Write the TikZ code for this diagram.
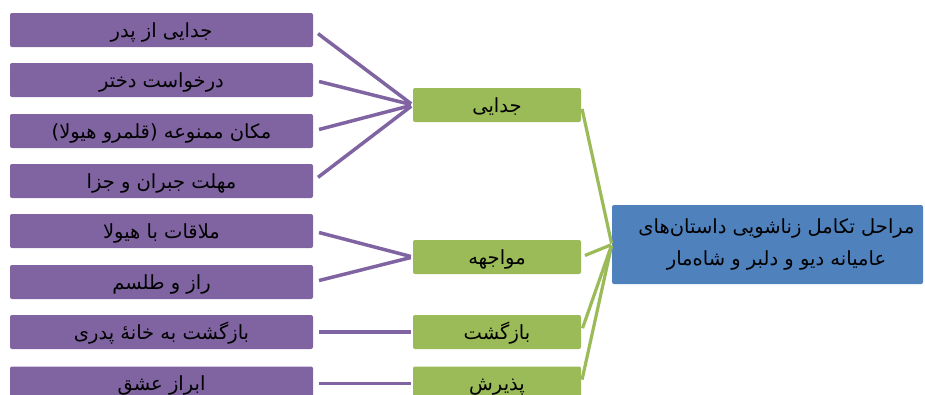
\documentclass[tikz,border=0pt]{standalone}
\usepackage{fontspec}
\newfontfamily\arabicfont[Script=Arabic]{DejaVu Sans}
\TeXXeTstate=1
\definecolor{leafpurple}{HTML}{8064A2}
\definecolor{midgreen}{HTML}{9BBB59}
\definecolor{rootblue}{HTML}{4F81BD}
\newcommand{\rtltext}[1]{\beginR #1\endR}
\begin{document}
\begin{tikzpicture}[x=1pt,y=-1pt,
  box/.style={rounded corners=2pt, inner sep=0pt, text=black,
    font=\arabicfont\fontsize{19.5}{22}\selectfont},
  leaf/.style={box, fill=leafpurple, minimum width=303pt, minimum height=34pt,
    text height=17pt, text depth=3pt},
  mid/.style={box, fill=midgreen, minimum width=168pt, minimum height=34pt,
    text height=17pt, text depth=3pt},
  rootbox/.style={box, fill=rootblue, minimum width=311pt, minimum height=79pt,
    align=center, font=\arabicfont\fontsize{19.5}{32}\selectfont},
  plink/.style={draw=leafpurple, line width=3.5pt, shorten <=6pt, shorten >=2pt},
  glink/.style={draw=midgreen, line width=3.2pt, shorten <=4pt, shorten >=1pt}]
\useasboundingbox (0,0) rectangle (925,394);
% left boxes
\node[leaf] (l1) at (161.5,30) {\rtltext{جدایی از پدر}};
\node[leaf] (l2) at (161.5,80) {\rtltext{درخواست دختر}};
\node[leaf] (l3) at (161.5,131) {\rtltext{مکان ممنوعه (قلمرو هیولا)}};
\node[leaf] (l4) at (161.5,181) {\rtltext{مهلت جبران و جزا}};
\node[leaf] (l5) at (161.5,231) {\rtltext{ملاقات با هیولا}};
\node[leaf] (l6) at (161.5,282) {\rtltext{راز و طلسم}};
\node[leaf] (l7) at (161.5,332) {\rtltext{بازگشت به خانهٔ پدری}};
\node[leaf] (l8) at (161.5,383.5) {\rtltext{ابراز عشق}};
% middle boxes
\node[mid] (m1) at (497,105) {\rtltext{جدایی}};
\node[mid] (m2) at (497,257) {\rtltext{مواجهه}};
\node[mid] (m3) at (497,332) {\rtltext{بازگشت}};
\node[mid] (m4) at (497,383.5) {\rtltext{پذیرش}};
% root
\node[rootbox] (r) at (767.5,244.5)
  {\hspace*{18pt}\rtltext{مراحل تکامل زناشویی داستان‌های}\\\hspace*{18pt}\rtltext{عامیانه دیو و دلبر و شاه‌مار}};
% connectors
\foreach \a in {l1,l2,l3,l4} \draw[plink] (\a.east) -- (m1.west);
\foreach \a in {l5,l6} \draw[plink] (\a.east) -- (m2.west);
\draw[plink] (l7.east) -- (m3.west);
\draw[plink] (l8.east) -- (m4.west);
\foreach \a in {m1,m2,m3,m4} \draw[glink] (\a.east) -- (r.west);
\end{tikzpicture}
\end{document}
